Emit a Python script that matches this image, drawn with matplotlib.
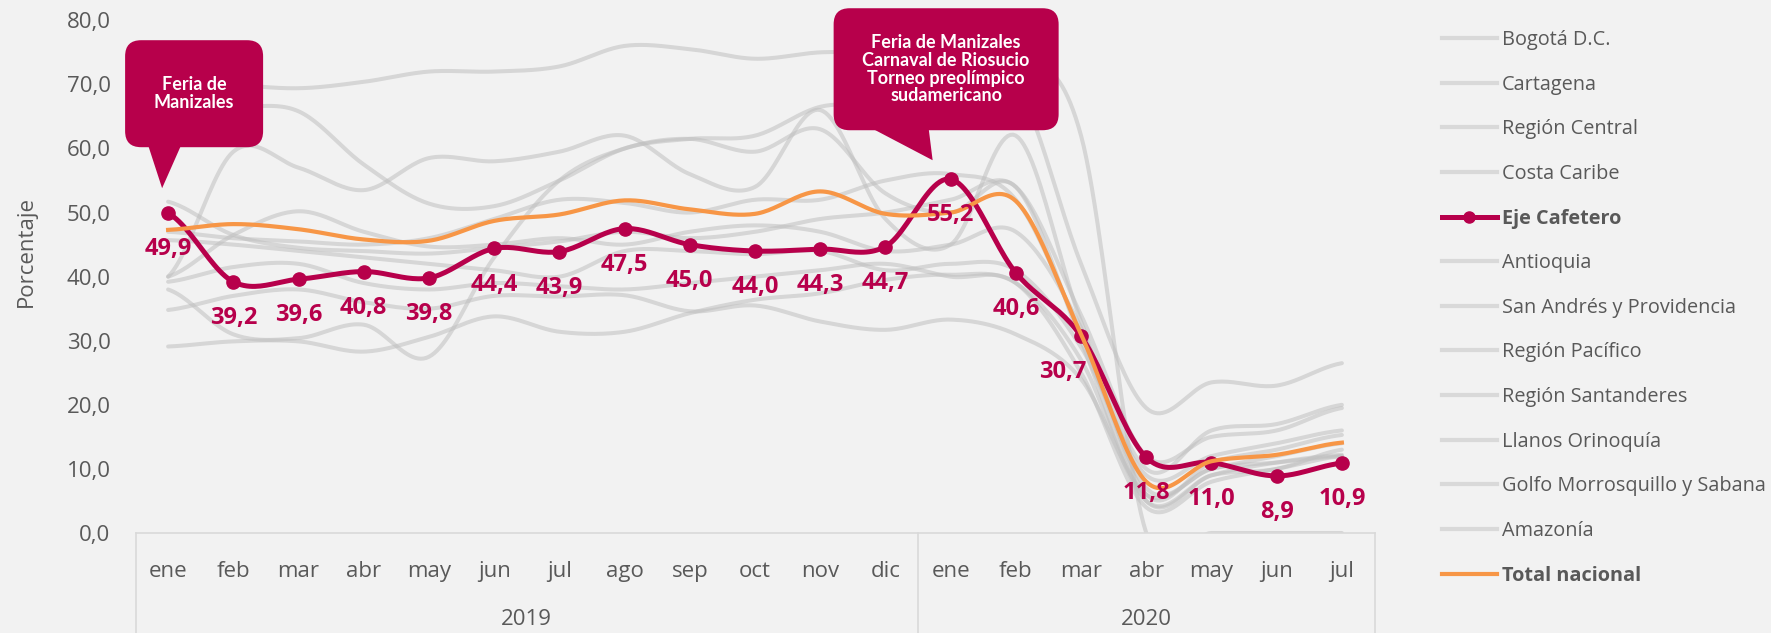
import numpy as np
import matplotlib.pyplot as plt
from matplotlib.lines import Line2D
from matplotlib.patches import FancyBboxPatch, Polygon
from matplotlib.transforms import IdentityTransform, blended_transform_factory

plt.rcParams['font.family'] = ['Open Sans', 'DejaVu Sans']

meses = ['ene', 'feb', 'mar', 'abr', 'may', 'jun', 'jul', 'ago', 'sep', 'oct', 'nov', 'dic',
         'ene', 'feb', 'mar', 'abr', 'may', 'jun', 'jul']
anios = ['2019', '2020']

# ocupación hotelera por región (%)
bogota = [51.7, 46.5, 44.5, 44.0, 43.6, 44.5, 45.5, 47.0, 46.0, 47.0, 49.0, 50.0, 52.0, 54.0, 34.0, 12.0, 15.0, 16.0, 19.5]
cartagena = [67.0, 66.5, 65.8, 57.5, 51.4, 51.0, 55.0, 60.0, 61.5, 62.0, 66.5, 67.0, 70.0, 70.0, 42.0, 19.5, 23.5, 23.0, 26.5]
central = [45.7, 45.0, 44.0, 43.0, 42.0, 41.0, 40.0, 44.0, 44.0, 43.5, 44.0, 41.0, 42.0, 41.0, 29.0, 9.0, 12.0, 14.0, 16.0]
caribe = [40.0, 46.5, 50.2, 47.0, 44.7, 45.0, 46.0, 45.0, 47.0, 48.0, 47.0, 44.0, 45.0, 47.0, 32.0, 6.0, 11.0, 13.0, 15.3]
eje = [49.9, 39.2, 39.6, 40.8, 39.8, 44.4, 43.9, 47.5, 45.0, 44.0, 44.3, 44.7, 55.2, 40.6, 30.7, 11.8, 11.0, 8.9, 10.9]
antioquia = [47.0, 46.0, 45.5, 45.0, 46.0, 49.0, 52.0, 51.5, 50.0, 52.0, 52.0, 55.0, 56.0, 52.0, 31.0, 7.0, 10.0, 12.0, 14.0]
san_andres = [71.0, 70.0, 69.4, 70.4, 72.0, 72.0, 72.8, 76.0, 75.5, 74.0, 75.0, 75.0, 76.0, 75.0, 62.0, 0.0, 0.0, 0.0, 0.0]
pacifico = [34.8, 37.0, 38.0, 36.0, 35.0, 37.0, 36.9, 37.1, 34.6, 35.5, 33.0, 31.7, 33.3, 31.0, 24.0, 6.0, 10.0, 11.0, 12.0]
santanderes = [29.1, 29.9, 29.9, 28.3, 30.6, 33.8, 31.4, 31.4, 34.3, 36.4, 37.4, 39.5, 40.3, 39.0, 27.0, 5.0, 9.0, 10.0, 13.0]
llanos = [38.0, 31.0, 30.4, 32.5, 27.5, 43.0, 55.0, 60.0, 61.5, 59.5, 63.0, 53.0, 50.0, 54.0, 30.0, 5.0, 9.0, 11.0, 12.2]
golfo = [40.0, 59.5, 57.0, 53.5, 58.5, 58.0, 59.5, 62.0, 56.0, 54.0, 66.0, 49.0, 45.0, 62.0, 33.0, 10.0, 16.0, 17.0, 20.0]
amazonia = [39.2, 41.5, 42.0, 39.0, 38.0, 39.0, 38.5, 38.0, 39.0, 40.0, 41.0, 42.0, 40.0, 39.0, 25.0, 4.0, 8.0, 10.0, 12.0]
total = [47.3, 48.2, 47.4, 45.8, 45.6, 48.7, 49.7, 51.9, 50.5, 49.8, 53.3, 49.8, 50.0, 51.8, 31.0, 8.0, 11.2, 12.2, 14.1]

regiones = [('Bogotá D.C.', bogota), ('Cartagena', cartagena), ('Región Central', central),
            ('Costa Caribe', caribe), ('Eje Cafetero', eje), ('Antioquia', antioquia),
            ('San Andrés y Providencia', san_andres), ('Región Pacífico', pacifico),
            ('Región Santanderes', santanderes), ('Llanos Orinoquía', llanos),
            ('Golfo Morrosquillo y Sabana', golfo), ('Amazonía', amazonia),
            ('Total nacional', total)]

ROJO = '#b7004b'
NARANJA = '#f79646'
GRIS = '#bfbfbf'
TEXTO = '#595959'
FONDO = '#f2f2f2'


def suavizar(vals, n=24):
    # curva tipo "línea suavizada" (Hermite / Catmull-Rom)
    y = np.asarray(vals, float)
    m = np.empty_like(y)
    m[1:-1] = (y[2:] - y[:-2]) / 2
    m[0] = (y[1] - y[0]) / 2
    m[-1] = (y[-1] - y[-2]) / 2
    t = np.linspace(0, 1, n, endpoint=False)
    h00 = 2 * t**3 - 3 * t**2 + 1
    h10 = t**3 - 2 * t**2 + t
    h01 = -2 * t**3 + 3 * t**2
    h11 = t**3 - t**2
    xs, ys = [], []
    for i in range(len(y) - 1):
        xs.append(i + t)
        ys.append(h00 * y[i] + h10 * m[i] + h01 * y[i + 1] + h11 * m[i + 1])
    xs.append([len(y) - 1])
    ys.append([y[-1]])
    return np.concatenate(xs), np.concatenate(ys)


fig = plt.figure(figsize=(17.71, 6.33), dpi=100, facecolor=FONDO)
ax = fig.add_axes([135.5 / 1771, 100 / 633, 1239 / 1771, 512.7 / 633])
ax.set_facecolor(FONDO)

x = np.arange(len(meses))
for nombre, serie in regiones:
    if nombre in ('Eje Cafetero', 'Total nacional'):
        continue
    xs, ys = suavizar(serie)
    ax.plot(xs, ys, color=GRIS, lw=2.9, alpha=0.55, solid_capstyle='round', zorder=2)

xs, ys = suavizar(eje)
ax.plot(xs, ys, color=ROJO, lw=3.6, zorder=4)
ax.plot(x, eje, 'o', color=ROJO, ms=9.5, zorder=5)

xs, ys = suavizar(total)
ax.plot(xs, ys, color=NARANJA, lw=3.0, zorder=6)

# etiquetas de Eje Cafetero
desplaz = {14: -13}
for i, v in enumerate(eje):
    ax.annotate(f'{v:.1f}'.replace('.', ','), (i, v), xytext=(desplaz.get(i, 0), -26),
                textcoords='offset points', ha='center', va='center',
                fontsize=17, fontweight='bold', color=ROJO, zorder=8)

ax.set_xlim(-0.5, len(meses) - 0.5)
ax.set_ylim(0, 80)
ax.set_yticks(np.arange(0, 81, 10))
ax.set_yticklabels([f'{v:.1f}'.replace('.', ',') for v in np.arange(0, 81, 10)])
ax.set_xticks(x)
ax.set_xticklabels(meses)
ax.tick_params(axis='both', length=0, labelsize=16, labelcolor=TEXTO)
ax.tick_params(axis='y', pad=18)
ax.tick_params(axis='x', pad=20)
for lado in ('top', 'right', 'left'):
    ax.spines[lado].set_visible(False)
ax.spines['bottom'].set_color('#d9d9d9')
ax.spines['bottom'].set_linewidth(1.2)

ax.set_ylabel('Porcentaje', fontsize=16, color=TEXTO)
ax.yaxis.set_label_coords(-0.080, 0.55)

# segundo nivel del eje: años
trans = blended_transform_factory(ax.transData, ax.transAxes)
for xb in (-0.5, 11.5, len(meses) - 0.5):
    ax.plot([xb, xb], [0, -0.2], transform=trans, color='#d9d9d9', lw=1.2, clip_on=False)
for xc, anio in zip((5.5, 15.0), anios):
    ax.text(xc, -0.168, anio, transform=trans, ha='center', va='center', fontsize=16, color=TEXTO)


def globo(i, v, texto, caja, base, punta):
    px, py = ax.transData.transform((i, v))
    x0, x1, y0, y1 = caja
    fig.add_artist(FancyBboxPatch((px + x0, py - y1), x1 - x0, y1 - y0,
                                  boxstyle='round,pad=0,rounding_size=16',
                                  transform=IdentityTransform(), fc=ROJO, ec='none', zorder=10))
    fig.add_artist(Polygon([(px + base[0], py - y1 + 2), (px + base[1], py - y1 + 2),
                            (px + punta[0], py - punta[1])],
                           closed=True, transform=IdentityTransform(), fc=ROJO, ec='none', zorder=10))
    fig.text(px + (x0 + x1) / 2, py - (y0 + y1) / 2, texto, transform=IdentityTransform(),
             ha='center', va='center', color='white', fontsize=13, fontweight='bold',
             family='Lato', linespacing=1.05, zorder=11)


globo(0, eje[0], 'Feria de\nManizales', (-43, 95, -173, -66), (-20, 13), (-6, -25))
globo(12, eje[12], 'Feria de Manizales\nCarnaval de Riosucio\nTorneo preolímpico\nsudamericano',
      (-117, 108, -171, -49), (-79, -22), (-18, -19))

# leyenda
handles = []
for nombre, serie in regiones:
    if nombre == 'Eje Cafetero':
        handles.append(Line2D([], [], color=ROJO, lw=3.6, marker='o', ms=8))
    elif nombre == 'Total nacional':
        handles.append(Line2D([], [], color=NARANJA, lw=3.0))
    else:
        handles.append(Line2D([], [], color='#d9d9d9', lw=3.0))
leg = fig.legend(handles, [n for n, _ in regiones], loc='upper left',
                 bbox_to_anchor=(1442 / 1771, 1 - 30 / 633), frameon=False,
                 borderaxespad=0, borderpad=0, fontsize=14.3, labelcolor=TEXTO,
                 handlelength=2.75, handletextpad=0.25, labelspacing=1.24)
for txt in leg.get_texts():
    if txt.get_text() in ('Eje Cafetero', 'Total nacional'):
        txt.set_fontweight('bold')

fig.savefig('out.png', dpi=100, facecolor=FONDO)
